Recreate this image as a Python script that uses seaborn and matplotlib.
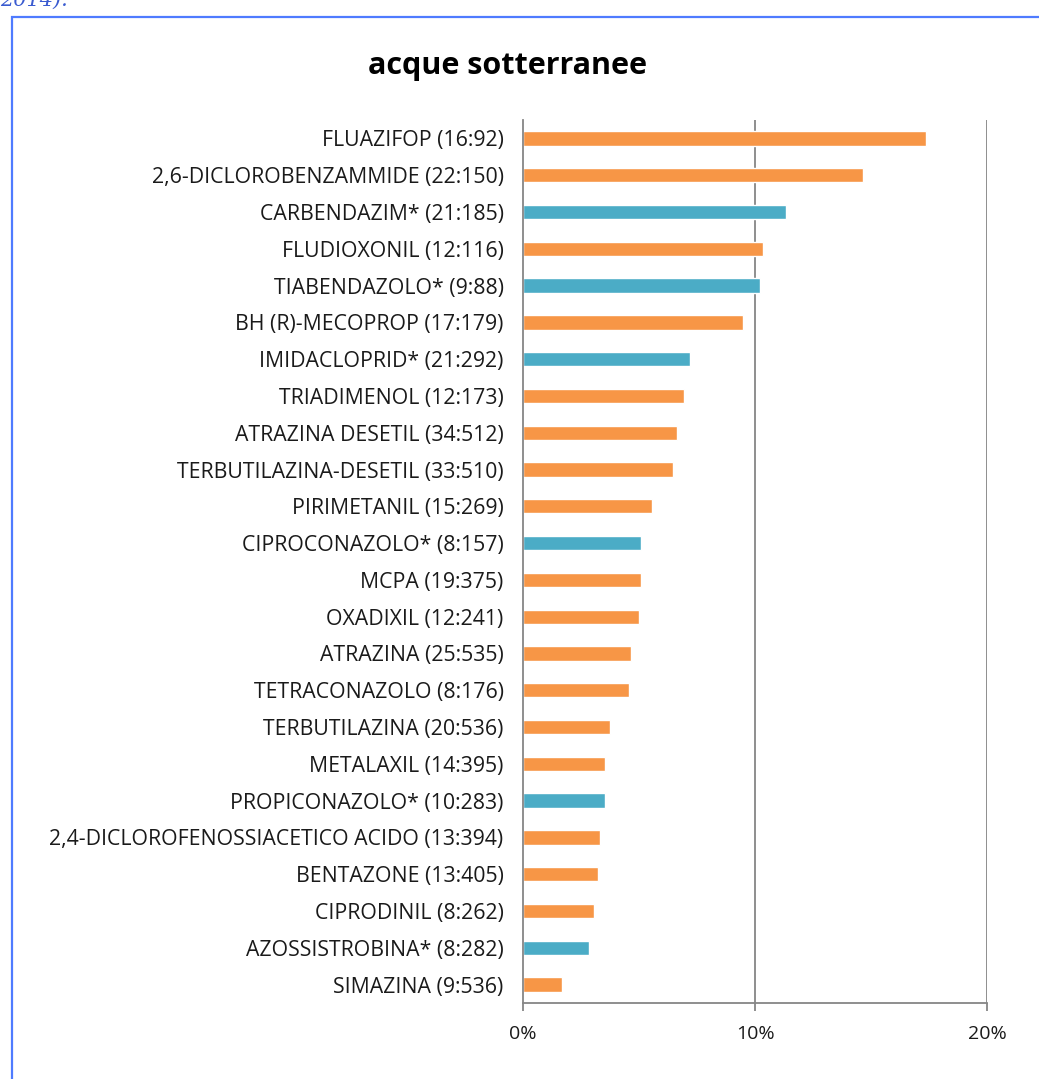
import matplotlib
matplotlib.use("Agg")
import matplotlib.pyplot as plt
import matplotlib.patches as mpatches
import matplotlib.ticker as mtick
import seaborn as sns
import pandas as pd

categories = [
    "FLUAZIFOP (16:92)",
    "2,6-DICLOROBENZAMMIDE (22:150)",
    "CARBENDAZIM* (21:185)",
    "FLUDIOXONIL (12:116)",
    "TIABENDAZOLO* (9:88)",
    "BH (R)-MECOPROP (17:179)",
    "IMIDACLOPRID* (21:292)",
    "TRIADIMENOL (12:173)",
    "ATRAZINA DESETIL (34:512)",
    "TERBUTILAZINA-DESETIL (33:510)",
    "PIRIMETANIL (15:269)",
    "CIPROCONAZOLO* (8:157)",
    "MCPA (19:375)",
    "OXADIXIL (12:241)",
    "ATRAZINA (25:535)",
    "TETRACONAZOLO (8:176)",
    "TERBUTILAZINA (20:536)",
    "METALAXIL (14:395)",
    "PROPICONAZOLO* (10:283)",
    "2,4-DICLOROFENOSSIACETICO ACIDO (13:394)",
    "BENTAZONE (13:405)",
    "CIPRODINIL (8:262)",
    "AZOSSISTROBINA* (8:282)",
    "SIMAZINA (9:536)",
]
values = [0.1739, 0.1467, 0.1135, 0.1034, 0.1023, 0.0950, 0.0719, 0.0694,
          0.0664, 0.0647, 0.0558, 0.0510, 0.0507, 0.0498, 0.0467, 0.0455,
          0.0373, 0.0354, 0.0353, 0.0330, 0.0321, 0.0305, 0.0284, 0.0168]
groups = ["n", "n", "s", "n", "s", "n", "s", "n", "n", "n", "n", "s",
          "n", "n", "n", "n", "n", "n", "s", "n", "n", "n", "s", "n"]
palette = {"n": "#F79646", "s": "#4BACC6"}
x_ticks = [0.0, 0.1, 0.2]
title = "acque sotterranee"

df = pd.DataFrame({"cat": categories, "val": values, "grp": groups})

sns.set_theme(style="white")
plt.rcParams["font.family"] = ["Open Sans", "DejaVu Sans"]

fig = plt.figure(figsize=(10.39, 10.79), dpi=100)
ax = fig.add_axes([0.5034, 0.0704, 0.4466, 0.8184])

sns.barplot(data=df, y="cat", x="val", hue="grp", palette=palette,
            order=categories, dodge=False, legend=False, width=0.39,
            saturation=1, ax=ax)

ax.set_xlim(0, 0.2)
ax.set_ylim(len(categories) - 0.5, -0.5)
ax.set_xticks(x_ticks)
ax.xaxis.set_major_formatter(mtick.PercentFormatter(1.0, decimals=0))
ax.set_xlabel("")
ax.set_ylabel("")
for v in x_ticks[1:]:
    ax.axvline(v, color="#868686", lw=1.3, zorder=0)
for s in ["top", "right"]:
    ax.spines[s].set_visible(False)
for s in ["left", "bottom"]:
    ax.spines[s].set_color("#868686")
    ax.spines[s].set_linewidth(1.3)
ax.tick_params(axis="x", bottom=True, length=6, width=1.3, color="#868686",
               labelsize=14, pad=10, labelcolor="#1a1a1a")
ax.tick_params(axis="y", left=False, labelsize=15.3, pad=8, labelcolor="#1a1a1a")

fig.text(0.4885, 1 - 66 / 1079, title, ha="center", va="center",
         fontsize=22, fontweight="bold", color="#000000")

# outer frame
frame = mpatches.Rectangle((12 / 1039, -0.1), 1.2, 1 - 17 / 1079 + 0.1,
                           transform=fig.transFigure, fill=False,
                           edgecolor="#4F7BFF", lw=1.6)
fig.add_artist(frame)
fig.text(0.0, 1 - 6 / 1079, "2014).", ha="left", va="baseline", fontsize=15,
         style="italic", family="DejaVu Serif", color="#3A5BD0")

fig.savefig("out.png", dpi=100)
